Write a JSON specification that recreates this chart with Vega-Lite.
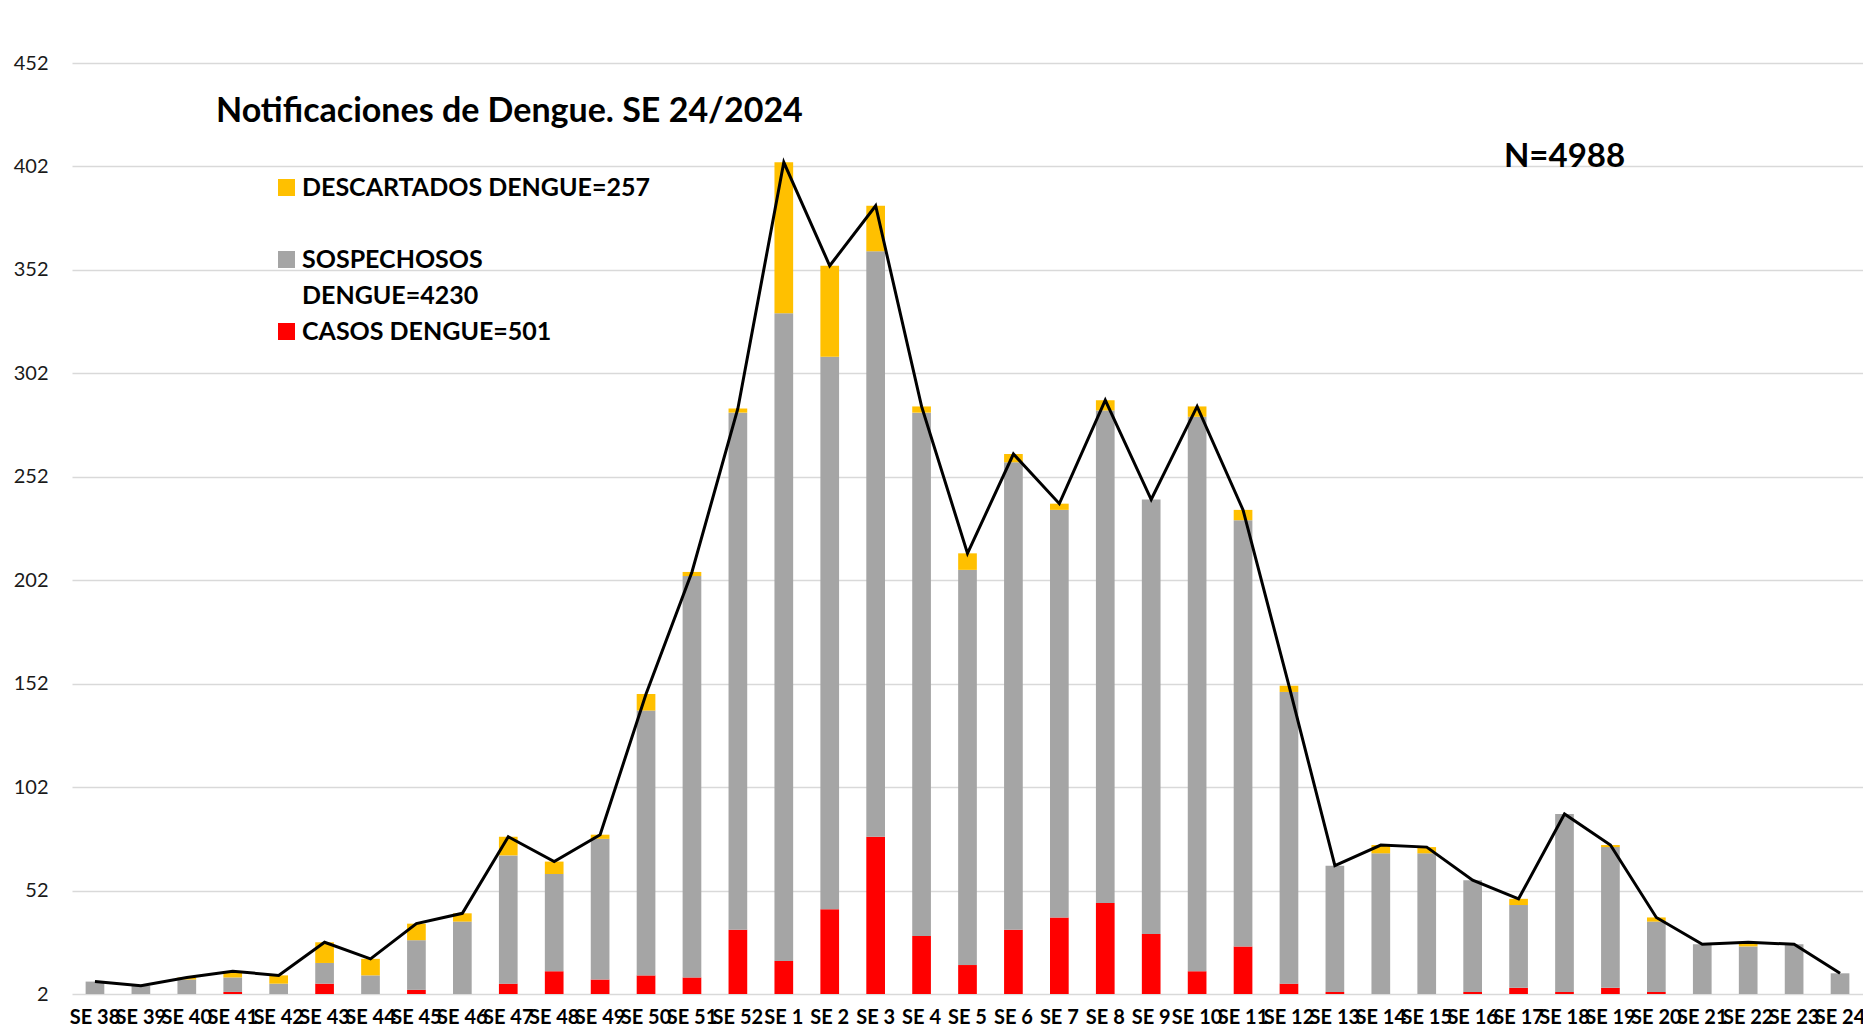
{
  "$schema": "https://vega.github.io/schema/vega-lite/v6.json",
  "autosize": {"type": "none"},
  "width": 1791,
  "height": 931,
  "padding": {"left": 72, "top": 63, "right": 0, "bottom": 36},
  "background": "white",
  "config": {
    "font": "Lato",
    "view": {"stroke": null},
    "style": {"guide-label": {"lineHeight": 36}}
  },
  "title": {
    "text": "Notificaciones de Dengue. SE 24/2024",
    "anchor": "start",
    "frame": "group",
    "orient": "top",
    "offset": 0,
    "dx": 144,
    "dy": 103,
    "baseline": "alphabetic",
    "font": "Lato",
    "fontSize": 34,
    "fontWeight": "bold",
    "color": "#000000"
  },
  "data": {
    "values": [
      {"semana": "SE 38", "serie": "CASOS DENGUE=501", "valor": 0},
      {"semana": "SE 38", "serie": "SOSPECHOSOS DENGUE=4230", "valor": 8},
      {"semana": "SE 38", "serie": "DESCARTADOS DENGUE=257", "valor": 0},
      {"semana": "SE 39", "serie": "CASOS DENGUE=501", "valor": 0},
      {"semana": "SE 39", "serie": "SOSPECHOSOS DENGUE=4230", "valor": 6},
      {"semana": "SE 39", "serie": "DESCARTADOS DENGUE=257", "valor": 0},
      {"semana": "SE 40", "serie": "CASOS DENGUE=501", "valor": 0},
      {"semana": "SE 40", "serie": "SOSPECHOSOS DENGUE=4230", "valor": 9},
      {"semana": "SE 40", "serie": "DESCARTADOS DENGUE=257", "valor": 1},
      {"semana": "SE 41", "serie": "CASOS DENGUE=501", "valor": 3},
      {"semana": "SE 41", "serie": "SOSPECHOSOS DENGUE=4230", "valor": 7},
      {"semana": "SE 41", "serie": "DESCARTADOS DENGUE=257", "valor": 3},
      {"semana": "SE 42", "serie": "CASOS DENGUE=501", "valor": 1},
      {"semana": "SE 42", "serie": "SOSPECHOSOS DENGUE=4230", "valor": 6},
      {"semana": "SE 42", "serie": "DESCARTADOS DENGUE=257", "valor": 4},
      {"semana": "SE 43", "serie": "CASOS DENGUE=501", "valor": 7},
      {"semana": "SE 43", "serie": "SOSPECHOSOS DENGUE=4230", "valor": 10},
      {"semana": "SE 43", "serie": "DESCARTADOS DENGUE=257", "valor": 10},
      {"semana": "SE 44", "serie": "CASOS DENGUE=501", "valor": 0},
      {"semana": "SE 44", "serie": "SOSPECHOSOS DENGUE=4230", "valor": 11},
      {"semana": "SE 44", "serie": "DESCARTADOS DENGUE=257", "valor": 8},
      {"semana": "SE 45", "serie": "CASOS DENGUE=501", "valor": 4},
      {"semana": "SE 45", "serie": "SOSPECHOSOS DENGUE=4230", "valor": 24},
      {"semana": "SE 45", "serie": "DESCARTADOS DENGUE=257", "valor": 8},
      {"semana": "SE 46", "serie": "CASOS DENGUE=501", "valor": 0},
      {"semana": "SE 46", "serie": "SOSPECHOSOS DENGUE=4230", "valor": 37},
      {"semana": "SE 46", "serie": "DESCARTADOS DENGUE=257", "valor": 4},
      {"semana": "SE 47", "serie": "CASOS DENGUE=501", "valor": 7},
      {"semana": "SE 47", "serie": "SOSPECHOSOS DENGUE=4230", "valor": 62},
      {"semana": "SE 47", "serie": "DESCARTADOS DENGUE=257", "valor": 9},
      {"semana": "SE 48", "serie": "CASOS DENGUE=501", "valor": 13},
      {"semana": "SE 48", "serie": "SOSPECHOSOS DENGUE=4230", "valor": 47},
      {"semana": "SE 48", "serie": "DESCARTADOS DENGUE=257", "valor": 6},
      {"semana": "SE 49", "serie": "CASOS DENGUE=501", "valor": 9},
      {"semana": "SE 49", "serie": "SOSPECHOSOS DENGUE=4230", "valor": 68},
      {"semana": "SE 49", "serie": "DESCARTADOS DENGUE=257", "valor": 2},
      {"semana": "SE 50", "serie": "CASOS DENGUE=501", "valor": 11},
      {"semana": "SE 50", "serie": "SOSPECHOSOS DENGUE=4230", "valor": 128},
      {"semana": "SE 50", "serie": "DESCARTADOS DENGUE=257", "valor": 8},
      {"semana": "SE 51", "serie": "CASOS DENGUE=501", "valor": 10},
      {"semana": "SE 51", "serie": "SOSPECHOSOS DENGUE=4230", "valor": 194},
      {"semana": "SE 51", "serie": "DESCARTADOS DENGUE=257", "valor": 2},
      {"semana": "SE 52", "serie": "CASOS DENGUE=501", "valor": 33},
      {"semana": "SE 52", "serie": "SOSPECHOSOS DENGUE=4230", "valor": 250},
      {"semana": "SE 52", "serie": "DESCARTADOS DENGUE=257", "valor": 2},
      {"semana": "SE 1", "serie": "CASOS DENGUE=501", "valor": 18},
      {"semana": "SE 1", "serie": "SOSPECHOSOS DENGUE=4230", "valor": 313},
      {"semana": "SE 1", "serie": "DESCARTADOS DENGUE=257", "valor": 73},
      {"semana": "SE 2", "serie": "CASOS DENGUE=501", "valor": 43},
      {"semana": "SE 2", "serie": "SOSPECHOSOS DENGUE=4230", "valor": 267},
      {"semana": "SE 2", "serie": "DESCARTADOS DENGUE=257", "valor": 44},
      {"semana": "SE 3", "serie": "CASOS DENGUE=501", "valor": 78},
      {"semana": "SE 3", "serie": "SOSPECHOSOS DENGUE=4230", "valor": 283},
      {"semana": "SE 3", "serie": "DESCARTADOS DENGUE=257", "valor": 22},
      {"semana": "SE 4", "serie": "CASOS DENGUE=501", "valor": 30},
      {"semana": "SE 4", "serie": "SOSPECHOSOS DENGUE=4230", "valor": 253},
      {"semana": "SE 4", "serie": "DESCARTADOS DENGUE=257", "valor": 3},
      {"semana": "SE 5", "serie": "CASOS DENGUE=501", "valor": 16},
      {"semana": "SE 5", "serie": "SOSPECHOSOS DENGUE=4230", "valor": 191},
      {"semana": "SE 5", "serie": "DESCARTADOS DENGUE=257", "valor": 8},
      {"semana": "SE 6", "serie": "CASOS DENGUE=501", "valor": 33},
      {"semana": "SE 6", "serie": "SOSPECHOSOS DENGUE=4230", "valor": 226},
      {"semana": "SE 6", "serie": "DESCARTADOS DENGUE=257", "valor": 4},
      {"semana": "SE 7", "serie": "CASOS DENGUE=501", "valor": 39},
      {"semana": "SE 7", "serie": "SOSPECHOSOS DENGUE=4230", "valor": 197},
      {"semana": "SE 7", "serie": "DESCARTADOS DENGUE=257", "valor": 3},
      {"semana": "SE 8", "serie": "CASOS DENGUE=501", "valor": 46},
      {"semana": "SE 8", "serie": "SOSPECHOSOS DENGUE=4230", "valor": 238},
      {"semana": "SE 8", "serie": "DESCARTADOS DENGUE=257", "valor": 5},
      {"semana": "SE 9", "serie": "CASOS DENGUE=501", "valor": 31},
      {"semana": "SE 9", "serie": "SOSPECHOSOS DENGUE=4230", "valor": 210},
      {"semana": "SE 9", "serie": "DESCARTADOS DENGUE=257", "valor": 0},
      {"semana": "SE 10", "serie": "CASOS DENGUE=501", "valor": 13},
      {"semana": "SE 10", "serie": "SOSPECHOSOS DENGUE=4230", "valor": 268},
      {"semana": "SE 10", "serie": "DESCARTADOS DENGUE=257", "valor": 5},
      {"semana": "SE 11", "serie": "CASOS DENGUE=501", "valor": 25},
      {"semana": "SE 11", "serie": "SOSPECHOSOS DENGUE=4230", "valor": 206},
      {"semana": "SE 11", "serie": "DESCARTADOS DENGUE=257", "valor": 5},
      {"semana": "SE 12", "serie": "CASOS DENGUE=501", "valor": 7},
      {"semana": "SE 12", "serie": "SOSPECHOSOS DENGUE=4230", "valor": 141},
      {"semana": "SE 12", "serie": "DESCARTADOS DENGUE=257", "valor": 3},
      {"semana": "SE 13", "serie": "CASOS DENGUE=501", "valor": 3},
      {"semana": "SE 13", "serie": "SOSPECHOSOS DENGUE=4230", "valor": 61},
      {"semana": "SE 13", "serie": "DESCARTADOS DENGUE=257", "valor": 0},
      {"semana": "SE 14", "serie": "CASOS DENGUE=501", "valor": 1},
      {"semana": "SE 14", "serie": "SOSPECHOSOS DENGUE=4230", "valor": 69},
      {"semana": "SE 14", "serie": "DESCARTADOS DENGUE=257", "valor": 4},
      {"semana": "SE 15", "serie": "CASOS DENGUE=501", "valor": 0},
      {"semana": "SE 15", "serie": "SOSPECHOSOS DENGUE=4230", "valor": 70},
      {"semana": "SE 15", "serie": "DESCARTADOS DENGUE=257", "valor": 3},
      {"semana": "SE 16", "serie": "CASOS DENGUE=501", "valor": 3},
      {"semana": "SE 16", "serie": "SOSPECHOSOS DENGUE=4230", "valor": 54},
      {"semana": "SE 16", "serie": "DESCARTADOS DENGUE=257", "valor": 0},
      {"semana": "SE 17", "serie": "CASOS DENGUE=501", "valor": 5},
      {"semana": "SE 17", "serie": "SOSPECHOSOS DENGUE=4230", "valor": 40},
      {"semana": "SE 17", "serie": "DESCARTADOS DENGUE=257", "valor": 3},
      {"semana": "SE 18", "serie": "CASOS DENGUE=501", "valor": 3},
      {"semana": "SE 18", "serie": "SOSPECHOSOS DENGUE=4230", "valor": 86},
      {"semana": "SE 18", "serie": "DESCARTADOS DENGUE=257", "valor": 0},
      {"semana": "SE 19", "serie": "CASOS DENGUE=501", "valor": 5},
      {"semana": "SE 19", "serie": "SOSPECHOSOS DENGUE=4230", "valor": 68},
      {"semana": "SE 19", "serie": "DESCARTADOS DENGUE=257", "valor": 1},
      {"semana": "SE 20", "serie": "CASOS DENGUE=501", "valor": 3},
      {"semana": "SE 20", "serie": "SOSPECHOSOS DENGUE=4230", "valor": 34},
      {"semana": "SE 20", "serie": "DESCARTADOS DENGUE=257", "valor": 2},
      {"semana": "SE 21", "serie": "CASOS DENGUE=501", "valor": 1},
      {"semana": "SE 21", "serie": "SOSPECHOSOS DENGUE=4230", "valor": 25},
      {"semana": "SE 21", "serie": "DESCARTADOS DENGUE=257", "valor": 0},
      {"semana": "SE 22", "serie": "CASOS DENGUE=501", "valor": 0},
      {"semana": "SE 22", "serie": "SOSPECHOSOS DENGUE=4230", "valor": 25},
      {"semana": "SE 22", "serie": "DESCARTADOS DENGUE=257", "valor": 2},
      {"semana": "SE 23", "serie": "CASOS DENGUE=501", "valor": 0},
      {"semana": "SE 23", "serie": "SOSPECHOSOS DENGUE=4230", "valor": 26},
      {"semana": "SE 23", "serie": "DESCARTADOS DENGUE=257", "valor": 0},
      {"semana": "SE 24", "serie": "CASOS DENGUE=501", "valor": 0},
      {"semana": "SE 24", "serie": "SOSPECHOSOS DENGUE=4230", "valor": 12},
      {"semana": "SE 24", "serie": "DESCARTADOS DENGUE=257", "valor": 0}
    ]
  },
  "encoding": {
    "x": {
      "field": "semana",
      "type": "nominal",
      "title": null,
      "scale": {
        "domain": ["SE 38", "SE 39", "SE 40", "SE 41", "SE 42", "SE 43", "SE 44", "SE 45", "SE 46", "SE 47", "SE 48", "SE 49", "SE 50", "SE 51", "SE 52", "SE 1", "SE 2", "SE 3", "SE 4", "SE 5", "SE 6", "SE 7", "SE 8", "SE 9", "SE 10", "SE 11", "SE 12", "SE 13", "SE 14", "SE 15", "SE 16", "SE 17", "SE 18", "SE 19", "SE 20", "SE 21", "SE 22", "SE 23", "SE 24"],
        "paddingInner": 0.593,
        "paddingOuter": 0.2965
      },
      "axis": {
        "labelAngle": 0,
        "labelFont": "Lato",
        "labelFontSize": 20,
        "labelFontWeight": "bold",
        "labelColor": "#000000",
        "labelPadding": 13,
        "labelOverlap": false,
        "labelBound": false,
        "labelLimit": 300,
        "ticks": false,
        "domain": false,
        "grid": false
      }
    }
  },
  "layer": [
    {
      "transform": [
        {"calculate": "datum.serie == 'CASOS DENGUE=501' ? 0 : (datum.serie == 'SOSPECHOSOS DENGUE=4230' ? 1 : 2)", "as": "orden"}
      ],
      "mark": {"type": "bar", "clip": true},
      "encoding": {
        "y": {
          "field": "valor",
          "type": "quantitative",
          "stack": "zero",
          "title": null,
          "scale": {"domain": [2, 452], "zero": false, "nice": false},
          "axis": {
            "values": [2, 52, 102, 152, 202, 252, 302, 352, 402, 452],
            "labelFont": "Lato",
            "labelFontSize": 20,
            "labelColor": "#1a1a1a",
            "labelPadding": 24,
            "ticks": false,
            "domain": false,
            "grid": true,
            "gridColor": "#D9D9D9",
            "gridWidth": 1.5
          }
        },
        "color": {
          "field": "serie",
          "type": "nominal",
          "scale": {
            "domain": ["DESCARTADOS DENGUE=257", "SOSPECHOSOS DENGUE=4230", "CASOS DENGUE=501"],
            "range": ["#FFC000", "#A5A5A5", "#FF0000"]
          },
          "legend": {
            "orient": "none",
            "legendX": 202,
            "legendY": 112,
            "direction": "vertical",
            "title": null,
            "padding": 0,
            "offset": 0,
            "symbolType": "square",
            "symbolSize": 289,
            "symbolStrokeWidth": 0,
            "symbolOpacity": 1,
            "labelFont": "Lato",
            "labelFontSize": 25,
            "labelFontWeight": "bold",
            "labelColor": "#000000",
            "labelOffset": 3,
            "labelLimit": 700,
            "rowPadding": 10,
            "labelExpr": "datum.label == 'SOSPECHOSOS DENGUE=4230' ? ['SOSPECHOSOS', 'DENGUE=4230'] : [datum.label, ' ']"
          }
        },
        "order": {"field": "orden", "type": "quantitative"}
      }
    },
    {
      "mark": {"type": "line", "color": "#000000", "strokeWidth": 3},
      "encoding": {
        "y": {"aggregate": "sum", "field": "valor", "type": "quantitative", "title": null}
      }
    },
    {
      "data": {"values": [{"etiqueta": "N=4988"}]},
      "mark": {"type": "text", "font": "Lato", "fontSize": 33, "fontWeight": "bold", "align": "center", "baseline": "alphabetic", "color": "#000000"},
      "encoding": {
        "x": {"datum": "SE 18"},
        "y": {"datum": 401.5},
        "text": {"field": "etiqueta", "type": "nominal"}
      }
    }
  ]
}
